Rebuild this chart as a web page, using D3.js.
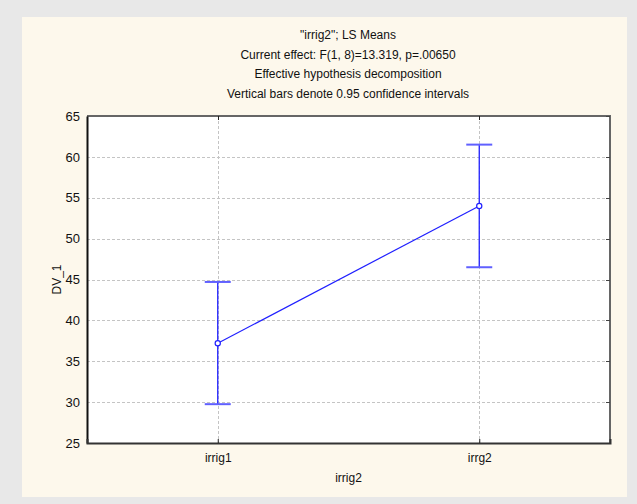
<!DOCTYPE html>
<html><head><meta charset="utf-8">
<script src="https://cdn.jsdelivr.net/npm/d3@7"></script>
<style>body{margin:0;background:#e8e8e8;}svg{display:block;}</style>
</head><body>
<script>
const categories = ["irrig1", "irrg2"];
const means = [37.2, 54.0];
const lower = [29.75, 46.5];
const upper = [44.7, 61.5];
const yTicks = [25, 30, 35, 40, 45, 50, 55, 60, 65];
const titleLines = ["\"irrig2\"; LS Means", "Current effect: F(1, 8)=13.319, p=.00650", "Effective hypothesis decomposition", "Vertical bars denote 0.95 confidence intervals"];
const xTitle = "irrig2";
const yTitle = "DV_1";

const W = 637, H = 504;
const svg = d3.select("body").append("svg").attr("width", W).attr("height", H);
svg.append("rect").attr("width", W).attr("height", H).attr("fill", "#e8e8e8");
svg.append("rect").attr("x", 22).attr("y", 17).attr("width", 605).attr("height", 480).attr("fill", "#fdf8ec");

const L = 87, T = 116, R = 610, B = 443;
const x = d3.scalePoint().domain(categories).range([L, R]).padding(0.5);
const y = d3.scaleLinear().domain([25, 65]).range([B, T]);
const font = "Liberation Sans, Arial, sans-serif";

svg.append("rect").attr("x", L).attr("y", T).attr("width", R - L).attr("height", B - T).attr("fill", "#fff");

// grid
const g = svg.append("g");
g.selectAll(".hg").data(yTicks.slice(1, -1)).join("line")
  .attr("x1", L).attr("x2", R).attr("y1", d => Math.round(y(d)) + 0.5).attr("y2", d => Math.round(y(d)) + 0.5)
  .attr("stroke", "#c4c4c4").attr("stroke-dasharray", "3,2");
g.selectAll(".vg").data(categories).join("line")
  .attr("y1", T).attr("y2", B).attr("x1", d => Math.round(x(d)) + 0.5).attr("x2", d => Math.round(x(d)) + 0.5)
  .attr("stroke", "#c4c4c4").attr("stroke-dasharray", "3,2");

// frame: top and right gray
svg.append("line").attr("x1", L).attr("x2", R + 1).attr("y1", T).attr("y2", T).attr("stroke", "#666").attr("stroke-width", 2);
svg.append("line").attr("x1", R).attr("x2", R).attr("y1", T - 1).attr("y2", B).attr("stroke", "#666").attr("stroke-width", 2);
// right ticks (inward)
svg.selectAll(".rt").data(yTicks).join("line")
  .attr("x1", R - 4).attr("x2", R).attr("y1", d => Math.round(y(d)) + 0.5).attr("y2", d => Math.round(y(d)) + 0.5)
  .attr("stroke", "#444");
// top ticks
svg.selectAll(".tt").data(categories).join("line")
  .attr("x1", d => Math.round(x(d)) + 0.5).attr("x2", d => Math.round(x(d)) + 0.5).attr("y1", T).attr("y2", T + 4)
  .attr("stroke", "#222");

// axes
const yAxis = d3.axisLeft(y).tickValues(yTicks).tickSize(0).tickPadding(7);
const ya = svg.append("g").attr("transform", `translate(${L},0)`).call(yAxis);
ya.select(".domain").attr("stroke", "#111").attr("stroke-width", 2);
ya.selectAll("text").attr("font-family", font).attr("font-size", 13).attr("fill", "#111");

const xAxis = d3.axisBottom(x).tickSize(-4).tickPadding(10);
const xa = svg.append("g").attr("transform", `translate(0,${B})`).call(xAxis);
xa.select(".domain").attr("stroke", "#333").attr("stroke-width", 2);
xa.selectAll(".tick line").attr("stroke", "#222");
xa.selectAll("text").attr("font-family", font).attr("font-size", 12).attr("fill", "#111");

// error bars
const eb = svg.append("g");
categories.forEach((c, i) => {
  const cx = x(c);
  eb.append("line").attr("x1", cx).attr("x2", cx).attr("y1", y(upper[i])).attr("y2", y(lower[i]))
    .attr("stroke", "#2020ff").attr("stroke-width", 1.3);
  [upper[i], lower[i]].forEach(v => {
    eb.append("line").attr("x1", cx - 13).attr("x2", cx + 13).attr("y1", y(v)).attr("y2", y(v))
      .attr("stroke", "#6060ff").attr("stroke-width", 2);
  });
});

// mean line
svg.append("path").datum(means)
  .attr("d", d3.line().x((d, i) => x(categories[i])).y(d => y(d)))
  .attr("fill", "none").attr("stroke", "#2020ff").attr("stroke-width", 1.2);
svg.selectAll(".pt").data(means).join("circle")
  .attr("cx", (d, i) => x(categories[i])).attr("cy", d => y(d)).attr("r", 2.6)
  .attr("fill", "#fff").attr("stroke", "#2020ff").attr("stroke-width", 1.2);

// titles
svg.selectAll(".title").data(titleLines).join("text")
  .attr("x", 348).attr("y", (d, i) => 39 + i * 19.7).attr("text-anchor", "middle")
  .attr("font-family", font).attr("font-size", 12).attr("fill", "#111").text(d => d);

svg.append("text").attr("x", (L + R) / 2).attr("y", 482).attr("text-anchor", "middle")
  .attr("font-family", font).attr("font-size", 12).attr("fill", "#111").text(xTitle);
svg.append("text").attr("transform", `translate(61,${(T + B) / 2}) rotate(-90)`).attr("text-anchor", "middle")
  .attr("font-family", font).attr("font-size", 12).attr("fill", "#111").text(yTitle);
</script>
</body></html>
